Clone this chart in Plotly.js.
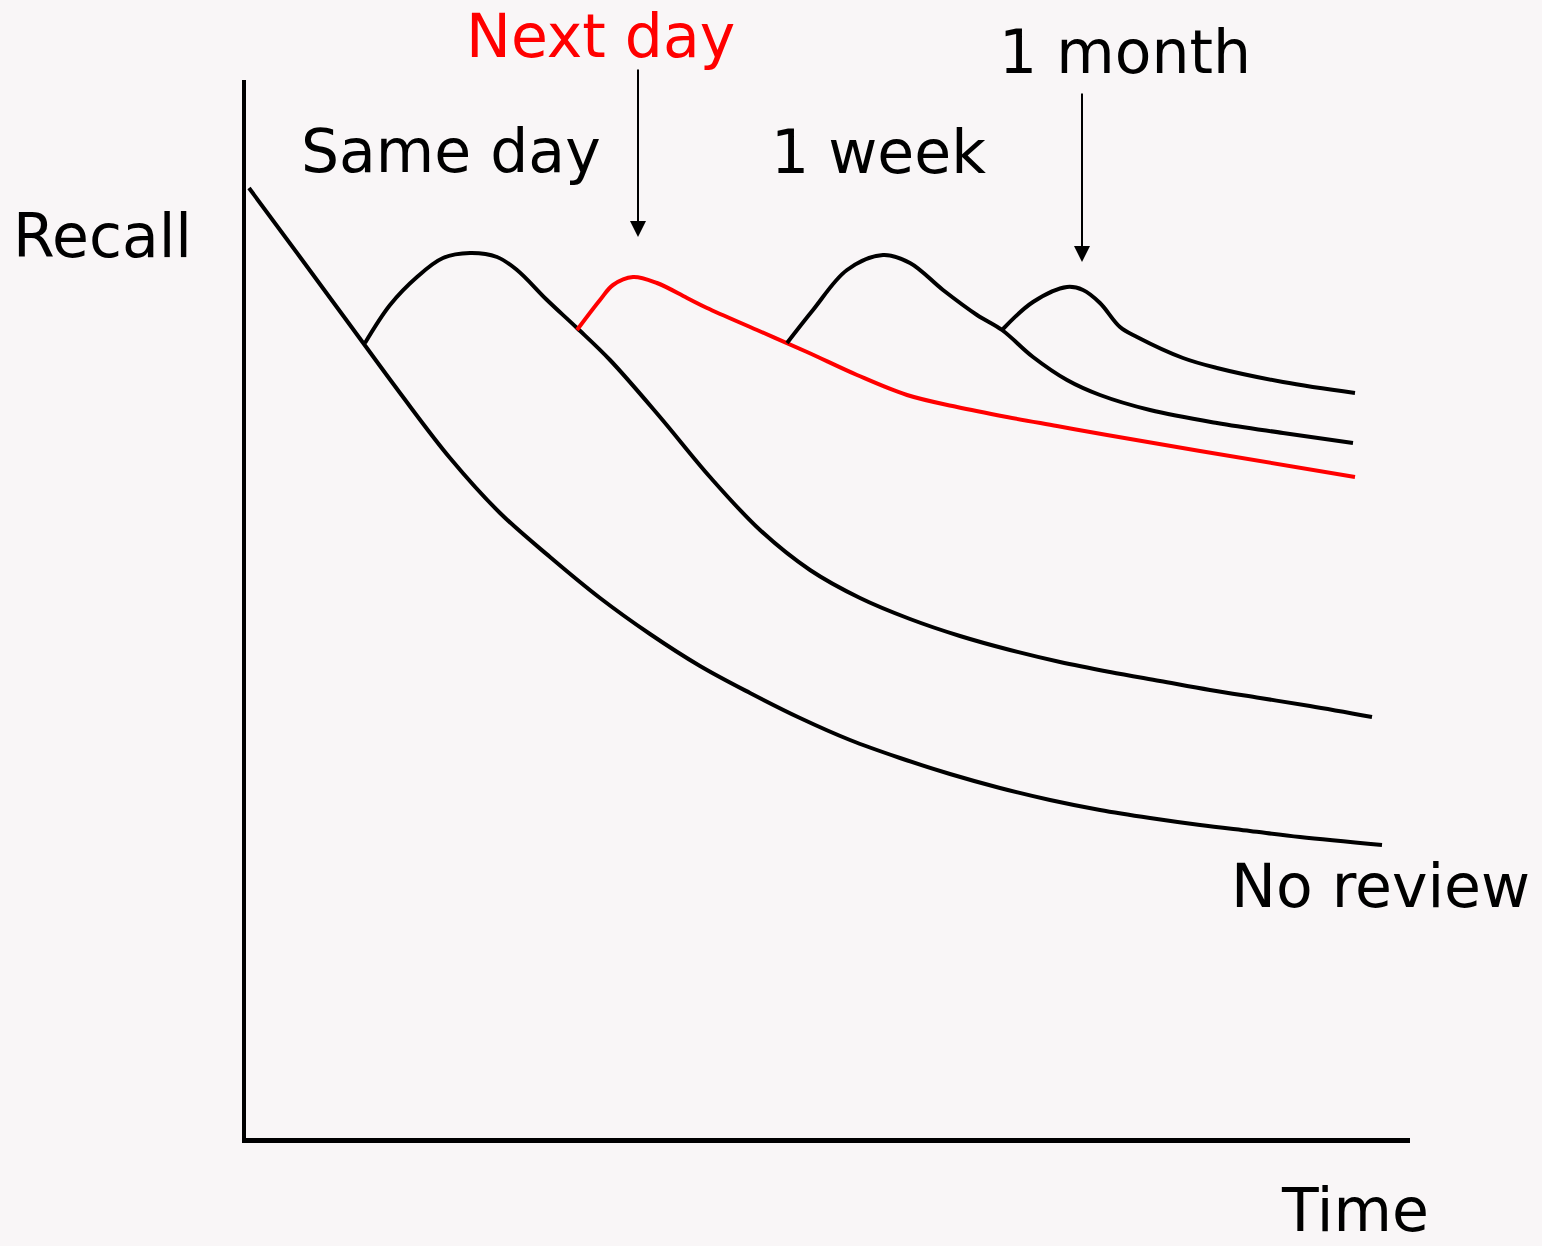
<!DOCTYPE html>
<html>
<head>
<meta charset="utf-8">
<script src="https://cdn.plot.ly/plotly-3.0.1.min.js"></script>
<style>
  html, body { margin: 0; padding: 0; background: #f9f6f7; }
  #chart { width: 1542px; height: 1246px; }
</style>
</head>
<body>
<div id="chart"></div>
<script>
// Time (arbitrary units) and recall (arbitrary units)
const noReviewX = [3, 54, 104, 154, 204, 254, 304, 354, 404, 454, 504, 554, 604, 654, 704, 754, 804, 854, 904, 954, 1004, 1054, 1136];
const noReviewY = [950, 881, 813, 745, 680, 625, 581, 540, 504, 472, 445, 420, 398, 380, 364, 350, 338, 328, 320, 313, 307, 301, 293];

const sameDayX = [119, 144, 171, 197, 224, 251, 271, 301, 331, 364, 414, 464, 514, 564, 614, 664, 714, 764, 814, 864, 914, 964, 1014, 1064, 1126];
const sameDayY = [795, 833, 861, 880, 885, 881, 868, 838, 810, 778, 721, 661, 608, 568, 540, 519, 502, 488, 476, 466, 457, 448, 440, 432, 421];

const nextDayX = [331, 354, 367, 387, 411, 441, 461, 511, 561, 611, 661, 711, 761, 811, 861, 954, 1109];
const nextDayY = [808, 838, 853, 861, 855, 840, 830, 808, 786, 763, 743, 731, 721, 712, 703, 687, 661];

const weekX = [541, 567, 601, 637, 664, 697, 731, 756, 787, 821, 854, 904, 971, 1037, 1107];
const weekY = [795, 828, 868, 883, 875, 848, 823, 808, 781, 758, 743, 728, 715, 705, 695];

const monthX = [756, 787, 821, 837, 854, 874, 891, 937, 971, 1037, 1109];
const monthY = [808, 836, 851, 848, 835, 811, 801, 780, 770, 756, 745];

// Review markers (arrow x position, tip and tail heights)
const arrowX = [392, 836];
const arrowTip = [901, 876];
const arrowTail = [1070, 1046];

// Labels
const labels = ["Next day", "Same day", "1 week", "1 month", "Recall", "No review", "Time"];
const labelX = [219, 54, 524, 752, -234, 984, 1034];
const labelY = [1138, 987, 986, 1086, 902, 252, -108];
const labelAnchor = ["top", "middle", "middle", "middle", "middle", "middle", "bottom"];
const labelColor = ["#ff0000", "#000000", "#000000", "#000000", "#000000", "#000000", "#000000"];

const X_RANGE = [0, 1164];
const Y_RANGE = [0, 1058];
const BG = "#f9f6f7";
const FONT = "DejaVu Sans, sans-serif";

function curve(x, y, color) {
  return {
    x: x, y: y, type: "scatter", mode: "lines",
    line: { color: color, width: 4, shape: "spline", smoothing: 1, simplify: false },
    hoverinfo: "skip"
  };
}

const data = [
  curve(noReviewX, noReviewY, "#000000"),
  curve(sameDayX, sameDayY, "#000000"),
  curve(nextDayX, nextDayY, "#ff0000"),
  curve(weekX, weekY, "#000000"),
  curve(monthX, monthY, "#000000")
];

const annotations = [];
labels.forEach((t, i) => {
  annotations.push({
    x: (labelX[i] - X_RANGE[0]) / (X_RANGE[1] - X_RANGE[0]),
    y: (labelY[i] - Y_RANGE[0]) / (Y_RANGE[1] - Y_RANGE[0]),
    xref: "paper", yref: "paper",
    text: t, showarrow: false, xanchor: "left", yanchor: labelAnchor[i],
    borderpad: 0,
    font: { family: FONT, size: 60, color: labelColor[i] }
  });
});
arrowX.forEach((ax, i) => {
  annotations.push({
    x: ax, y: arrowTip[i], xref: "x", yref: "y",
    ax: ax, ay: arrowTail[i], axref: "x", ayref: "y",
    text: "", showarrow: true, arrowhead: 2, arrowsize: 1.6, arrowwidth: 2,
    arrowcolor: "#000000", standoff: 0
  });
});

const layout = {
  width: 1542, height: 1246,
  paper_bgcolor: BG, plot_bgcolor: BG,
  margin: { l: 246, r: 132, t: 80, b: 108, pad: 0 },
  showlegend: false,
  hovermode: false,
  font: { family: FONT },
  xaxis: {
    range: X_RANGE, showline: true, linecolor: "#000000", linewidth: 4.5,
    showgrid: false, zeroline: false, showticklabels: false, ticks: "", fixedrange: true
  },
  yaxis: {
    range: Y_RANGE, showline: true, linecolor: "#000000", linewidth: 4.5,
    showgrid: false, zeroline: false, showticklabels: false, ticks: "", fixedrange: true
  },
  annotations: annotations
};

Plotly.newPlot("chart", data, layout, { staticPlot: true, displayModeBar: false });
</script>
</body>
</html>
